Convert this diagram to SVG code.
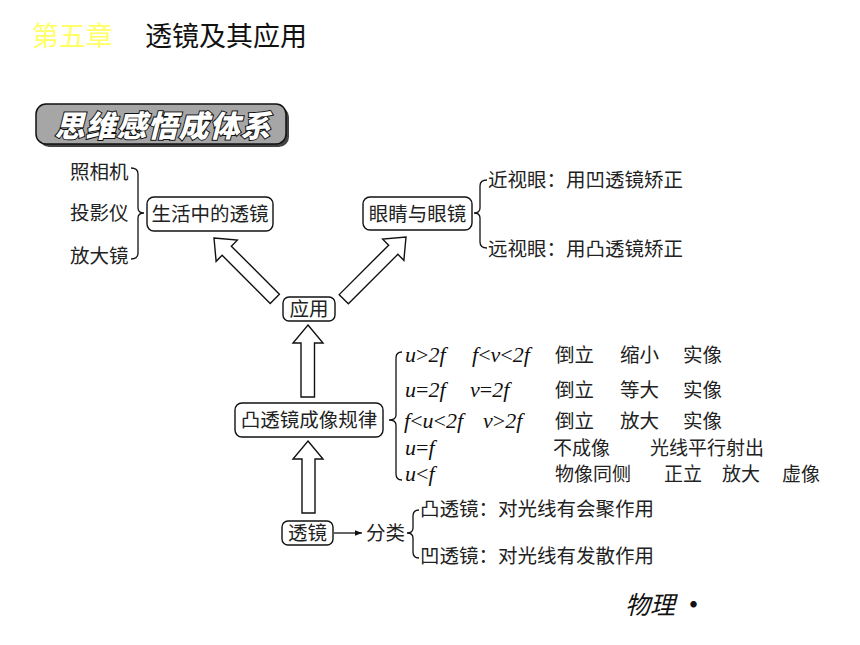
<svg xmlns="http://www.w3.org/2000/svg" width="860" height="645" viewBox="0 0 860 645">
<defs>
<style>
.t{font-family:"Noto Sans CJK SC","Noto Sans",sans-serif;font-size:19.5px;fill:#222}
.s{font-size:19px}
.m{font-family:"Liberation Serif",serif;font-size:22px;font-style:italic;fill:#111}
.m tspan.u{font-style:normal}
.box{fill:#fff;stroke:#111;stroke-width:1.4}
.br{fill:none;stroke:#111;stroke-width:1.3}
.ar{fill:#fff;stroke:#111;stroke-width:1.4;stroke-linejoin:miter}
</style>
<marker id="ah" viewBox="0 0 10 10" refX="10" refY="5" markerWidth="7" markerHeight="7" markerUnits="userSpaceOnUse" orient="auto">
<path d="M0,1 L10,5 L0,9 Z" fill="#111"/>
</marker>
</defs>
<rect width="860" height="645" fill="#fff"/>
<g id="title">
<text x="32" y="46" font-family="Noto Sans CJK SC,sans-serif" font-size="27" fill="#ffff66">第五章</text>
<text x="145" y="46" font-family="Noto Sans CJK SC,sans-serif" font-size="27" fill="#111">透镜及其应用</text>
</g>
<g id="banner">
<rect x="39" y="107" width="250" height="40" rx="10" fill="#444"/>
<rect x="36" y="104" width="250" height="40" rx="10" fill="#a6a6a6" stroke="#111" stroke-width="1.5"/>
<text x="163" y="137" text-anchor="middle" font-family="Noto Sans CJK SC,sans-serif" font-size="30" font-weight="900" font-style="italic" fill="#fff" stroke="#111" stroke-width="2" paint-order="stroke" letter-spacing="1">思维感悟成体系</text>
</g>
<g id="connectors">
<path class="br" d="M131,168 Q138,168 138,174 L138,208 Q138,213 144,213 Q138,213 138,218 L138,253 Q138,259 131,259"/>
<path class="br" d="M487,180 Q480,180 480,186 L480,208 Q480,213 474,213 Q480,213 480,218 L480,242 Q480,248 487,248"/>
<path class="br" d="M402,352 Q396,352 396,358 L396,415 Q396,420 389,420 Q396,420 396,425 L396,474 Q396,480 402,480"/>
<path class="br" d="M419,510 Q413,510 413,516 L413,528 Q413,533 407,533 Q413,533 413,538 L413,552 Q413,558 419,558"/>
<g transform="translate(214,238) rotate(-45)">
<path class="ar" d="M0,0 L15,18 L6.5,18 L6.5,86 L-6.5,86 L-6.5,18 L-15,18 Z"/>
</g>
<g transform="translate(406,237) rotate(45)">
<path class="ar" d="M0,0 L15,18 L6.5,18 L6.5,88 L-6.5,88 L-6.5,18 L-15,18 Z"/>
</g>
<path class="ar" d="M308,325 L323,343 L314.5,343 L314.5,397 L301,397 L301,343 L293,343 Z"/>
<path class="ar" d="M308,441 L323,459 L315,459 L315,513 L302,513 L302,459 L293,459 Z"/>
<line x1="334" y1="533" x2="362" y2="533" stroke="#111" stroke-width="1.3" marker-end="url(#ah)"/>
</g>
<g id="n-life">
<text class="t" x="70" y="179">照相机</text>
<text class="t" x="70" y="220">投影仪</text>
<text class="t" x="70" y="263">放大镜</text>
<rect class="box" x="147" y="197" width="126" height="34" rx="7"/>
<text class="t" x="210" y="221" text-anchor="middle">生活中的透镜</text>
</g>
<g id="n-eye">
<rect class="box" x="363" y="197" width="109" height="33" rx="7"/>
<text class="t" x="417.5" y="221" text-anchor="middle">眼睛与眼镜</text>
<text class="t" x="488" y="187">近视眼：用凹透镜矫正</text>
<text class="t" x="488" y="256">远视眼：用凸透镜矫正</text>
</g>
<g id="n-use">
<rect class="box" x="283" y="297" width="52" height="24" rx="6"/>
<text class="t" x="309" y="316" text-anchor="middle">应用</text>
</g>
<g id="n-rule">
<rect class="box" x="235" y="403" width="148" height="34" rx="7"/>
<text class="t" x="309" y="427" text-anchor="middle">凸透镜成像规律</text>
<text class="m" x="405" y="362">u<tspan class="u">&gt;</tspan>2f</text>
<text class="m" x="472" y="362">f<tspan class="u">&lt;</tspan>v<tspan class="u">&lt;</tspan>2f</text>
<text class="t" x="555" y="362">倒立</text><text class="t" x="620" y="362">缩小</text><text class="t" x="683" y="362">实像</text>
<text class="m" x="405" y="397">u<tspan class="u">=</tspan>2f</text>
<text class="m" x="470" y="397">v<tspan class="u">=</tspan>2f</text>
<text class="t" x="555" y="397">倒立</text><text class="t" x="620" y="397">等大</text><text class="t" x="683" y="397">实像</text>
<text class="m" x="404" y="428">f<tspan class="u">&lt;</tspan>u<tspan class="u">&lt;</tspan>2f</text>
<text class="m" x="483" y="428">v<tspan class="u">&gt;</tspan>2f</text>
<text class="t" x="555" y="428">倒立</text><text class="t" x="620" y="428">放大</text><text class="t" x="683" y="428">实像</text>
<text class="m" x="405" y="455">u<tspan class="u">=</tspan>f</text>
<text class="t s" x="553" y="455">不成像</text><text class="t s" x="650" y="455">光线平行射出</text>
<text class="m" x="405" y="481">u<tspan class="u">&lt;</tspan>f</text>
<text class="t s" x="555" y="481">物像同侧</text><text class="t s" x="664" y="481">正立</text><text class="t s" x="722" y="481">放大</text><text class="t s" x="782" y="481">虚像</text>
</g>
<g id="n-lens">
<rect class="box" x="282" y="521" width="51" height="24" rx="6"/>
<text class="t" x="307.5" y="540" text-anchor="middle">透镜</text>
<text class="t" x="366" y="540">分类</text>
<text class="t" x="420" y="516">凸透镜：对光线有会聚作用</text>
<text class="t" x="420" y="563">凹透镜：对光线有发散作用</text>
</g>
<g id="footer">
<text x="625" y="614" font-family="Noto Sans CJK SC,sans-serif" font-size="25" font-style="italic" fill="#111">物理</text>
<text x="681" y="614" font-family="Noto Sans CJK SC,sans-serif" font-size="25" font-weight="bold" fill="#111">·</text>
</g>
</svg>
